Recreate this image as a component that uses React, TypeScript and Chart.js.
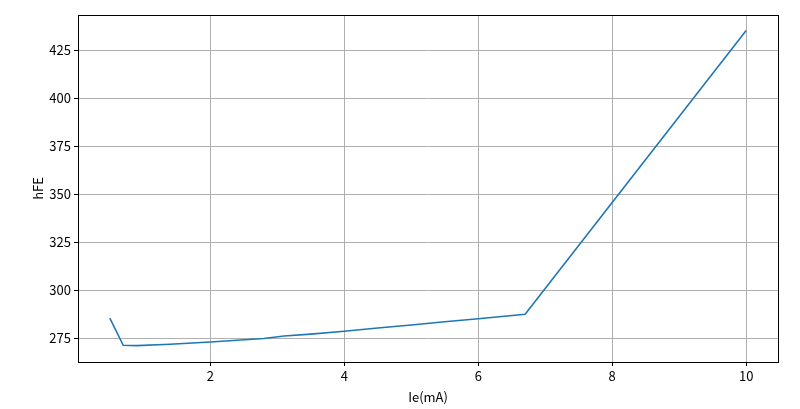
import React, { useEffect, useRef } from "react";
import { Chart, registerables } from "chart.js";

Chart.register(...registerables);

const ieValues = [0.5, 0.7, 0.9, 1.4, 2.0, 2.8, 3.1, 3.5, 4.0, 4.5, 5.0, 5.5, 6.0, 6.7, 10.0];
const hfeValues = [285.6, 271.5, 271.3, 272.0, 273.2, 275.0, 276.3, 277.3, 278.8, 280.5, 282.0, 283.7, 285.3, 287.6, 435.2];
const xTicks = [2, 4, 6, 8, 10];
const yTicks = [275, 300, 325, 350, 375, 400, 425];
const xLabel = "Ie(mA)";
const yLabel = "hFE";

const FONT = "'Noto Sans CJK SC', 'DejaVu Sans', sans-serif";

const framePlugin = {
  id: "frame",
  afterDraw(chart: any) {
    const { ctx, chartArea } = chart;
    ctx.save();
    ctx.strokeStyle = "#000";
    ctx.lineWidth = 1;
    ctx.strokeRect(
      Math.round(chartArea.left) + 0.5,
      Math.round(chartArea.top) + 0.5,
      Math.round(chartArea.right - chartArea.left),
      Math.round(chartArea.bottom - chartArea.top)
    );
    ctx.restore();
  },
};

export default function App() {
  const ref = useRef<HTMLCanvasElement>(null);
  useEffect(() => {
    document.body.style.margin = "0";
    const chart = new Chart(ref.current!, {
      type: "line",
      data: {
        datasets: [
          {
            data: ieValues.map((x, i) => ({ x, y: hfeValues[i] })),
            borderColor: "#1f77b4",
            borderWidth: 1.6,
            pointRadius: 0,
            fill: false,
            tension: 0,
          },
        ],
      },
      options: {
        responsive: false,
        animation: false,
        layout: { padding: { left: 0, right: 22, top: 15, bottom: 0 } },
        plugins: { legend: { display: false }, tooltip: { enabled: false } },
        scales: {
          x: {
            type: "linear",
            min: 0.025,
            max: 10.475,
            afterBuildTicks: (s: any) => {
              s.ticks = xTicks.map((v) => ({ value: v }));
            },
            afterFit: (s: any) => {
              s.height = 47;
            },
            grid: {
              color: "#b0b0b0",
              lineWidth: 1,
              tickColor: "#000",
              tickLength: 4,
            },
            border: { color: "#000" },
            ticks: {
              color: "#000",
              font: { family: FONT, size: 13 },
              padding: 2,
              maxRotation: 0,
              callback: (v: any) => String(v),
            },
            title: {
              display: true,
              text: xLabel,
              color: "#000",
              font: { family: FONT, size: 13 },
              padding: { top: 0, bottom: 4 },
            },
          },
          y: {
            type: "linear",
            min: 262.8,
            max: 443.2,
            afterBuildTicks: (s: any) => {
              s.ticks = yTicks.map((v) => ({ value: v }));
            },
            afterFit: (s: any) => {
              s.width = 78;
            },
            grid: {
              color: "#b0b0b0",
              lineWidth: 1,
              tickColor: "#000",
              tickLength: 4,
            },
            border: { color: "#000" },
            ticks: {
              color: "#000",
              font: { family: FONT, size: 13 },
              padding: 3,
              callback: (v: any) => String(v),
            },
            title: {
              display: true,
              text: yLabel,
              color: "#000",
              font: { family: FONT, size: 13 },
              padding: { top: 30, bottom: 0 },
            },
          },
        },
      },
      plugins: [framePlugin],
    });
    return () => chart.destroy();
  }, []);
  return (
    <div style={{ position: "absolute", left: 0, top: 0, width: 800, height: 409, background: "#fff" }}>
      <canvas ref={ref} width={800} height={409} style={{ width: 800, height: 409, display: "block" }} />
    </div>
  );
}
